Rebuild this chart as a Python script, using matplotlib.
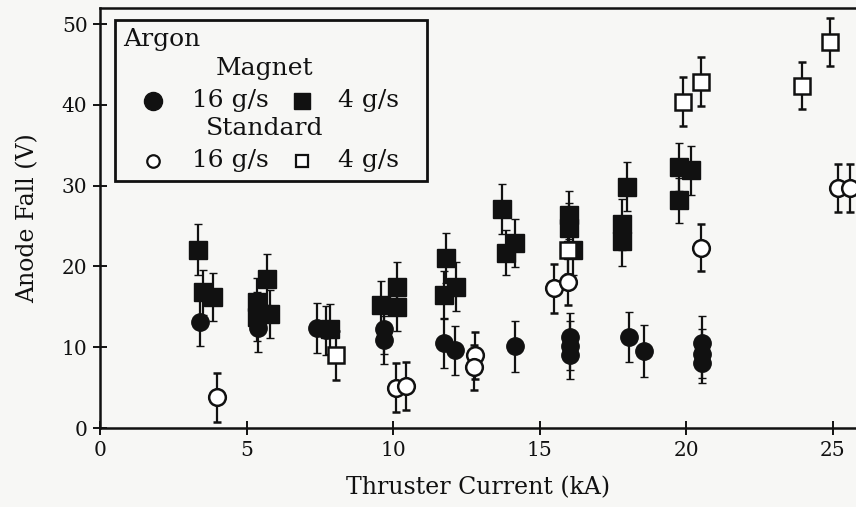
import matplotlib
matplotlib.use("Agg")
import matplotlib.pyplot as plt
from matplotlib.patches import Rectangle

# Anode fall voltage vs. thruster current, argon propellant
mag16_x = [3.4, 5.4, 7.4, 7.7, 9.7, 9.7, 11.75, 12.1, 14.15, 16.05, 16.05, 16.05, 18.05, 18.55, 20.55, 20.55, 20.55]
mag16_y = [13.1, 12.4, 12.4, 12.1, 12.2, 10.9, 10.5, 9.6, 10.1, 11.3, 10.2, 9.1, 11.3, 9.5, 10.5, 9.2, 8.1]
mag16_err = [3.0, 3.0, 3.1, 3.0, 3.0, 3.0, 3.1, 3.0, 3.2, 3.0, 3.0, 3.0, 3.1, 3.2, 3.4, 3.0, 2.5]

mag4_x = [3.36, 3.5, 3.85, 5.35, 5.35, 5.7, 5.8, 7.85, 9.6, 10.15, 10.15, 11.8, 11.75, 12.15,
          13.72, 13.85, 14.15, 16.0, 16.0, 16.15, 17.8, 17.8, 18.0, 19.77, 20.17, 19.77]
mag4_y = [22.1, 16.8, 16.2, 15.6, 13.8, 18.4, 14.1, 12.3, 15.2, 17.5, 15.0, 21.0, 16.5, 17.5,
          27.1, 21.7, 22.9, 26.4, 24.8, 22.0, 25.2, 23.1, 29.9, 32.3, 31.9, 28.2]
mag4_err = [3.1, 2.8, 3.0, 3.0, 3.0, 3.2, 3.0, 3.1, 3.0, 3.0, 3.0, 3.1, 3.0, 3.0,
            3.1, 2.8, 3.0, 3.0, 3.0, 3.0, 3.2, 3.1, 3.0, 3.0, 3.0, 2.8]

std16_x = [4.0, 10.1, 10.45, 12.8, 12.75, 15.5, 15.97, 20.5, 25.2, 25.6]
std16_y = [3.8, 5.0, 5.2, 9.0, 7.5, 17.3, 18.1, 22.3, 29.7, 29.7]
std16_err = [3.0, 3.0, 3.0, 2.9, 2.8, 3.0, 2.9, 2.9, 3.0, 3.0]

std4_x = [8.05, 15.97, 19.9, 20.5, 23.96, 24.9]
std4_y = [9.0, 22.1, 40.4, 42.9, 42.4, 47.8]
std4_err = [3.0, 3.0, 3.0, 3.0, 2.9, 3.0]

x_ticks = [0, 5, 10, 15, 20, 25]
y_ticks = [0, 10, 20, 30, 40, 50]

FONT = "DejaVu Serif"
INK = "#111111"
BG = "#f7f7f5"

fig = plt.figure(figsize=(8.56, 5.07), dpi=100, facecolor=BG)
ax = fig.add_axes([100 / 856, 1 - 428 / 507, 756 / 856, 420 / 507], facecolor=BG)

bar_kw = dict(linestyle="none", ecolor=INK, elinewidth=1.6, capsize=3.2, capthick=2.2)

ax.errorbar(mag4_x, mag4_y, yerr=mag4_err, marker="s", ms=12.5, mfc=INK, mec=INK, mew=1.0, zorder=3, **bar_kw)
ax.errorbar(mag16_x, mag16_y, yerr=mag16_err, marker="o", ms=12.5, mfc=INK, mec=INK, mew=1.0, zorder=3, **bar_kw)
ax.errorbar(std4_x, std4_y, yerr=std4_err, marker="s", ms=12, mfc="white", mec=INK, mew=1.8, zorder=4, **bar_kw)
ax.errorbar(std16_x, std16_y, yerr=std16_err, marker="o", ms=12, mfc="white", mec=INK, mew=1.8, zorder=4, **bar_kw)

ax.set_xlim(0, 25.8)
ax.set_ylim(0, 52)
ax.set_xticks(x_ticks)
ax.set_yticks(y_ticks)
ax.set_xticklabels([str(v) for v in x_ticks], fontfamily=FONT, fontsize=14.5, color=INK)
ax.set_yticklabels([str(v) for v in y_ticks], fontfamily=FONT, fontsize=14.5, color=INK)
ax.tick_params(direction="inout", length=10, width=1.4, color=INK, pad=4)

for side in ("left", "top", "bottom"):
    ax.spines[side].set_linewidth(1.8)
    ax.spines[side].set_color(INK)
ax.spines["right"].set_visible(False)

ax.set_xlabel("Thruster Current (kA)", fontfamily=FONT, fontsize=17, color=INK, labelpad=12)
ax.set_ylabel("Anode Fall (V)", fontfamily=FONT, fontsize=17, color=INK, labelpad=16)

# Legend panel
T = ax.transAxes
ax.add_patch(Rectangle((0.0198, 0.588), 0.4127, 0.383, transform=T, fill=False,
                       lw=2.0, ec=INK, zorder=6, clip_on=False))
txt = dict(transform=T, fontfamily=FONT, fontsize=18, color=INK, va="center", zorder=7)
ax.text(0.0304, 0.924, "Argon", ha="left", **txt)
ax.text(0.218, 0.857, "Magnet", ha="center", **txt)
ax.text(0.218, 0.714, "Standard", ha="center", **txt)
ax.text(0.1217, 0.779, "16 g/s", ha="left", **txt)
ax.text(0.315, 0.779, "4 g/s", ha="left", **txt)
ax.text(0.1217, 0.636, "16 g/s", ha="left", **txt)
ax.text(0.315, 0.636, "4 g/s", ha="left", **txt)
mk = dict(transform=T, linestyle="none", zorder=7, clip_on=False)
ax.plot([0.070], [0.779], marker="o", ms=13, mfc=INK, mec=INK, **mk)
ax.plot([0.267], [0.779], marker="s", ms=11.5, mfc=INK, mec=INK, **mk)
ax.plot([0.070], [0.636], marker="o", ms=9, mfc="white", mec=INK, mew=1.6, **mk)
ax.plot([0.267], [0.636], marker="s", ms=9, mfc="white", mec=INK, mew=1.6, **mk)

fig.savefig("out.png", dpi=100, facecolor=BG)
